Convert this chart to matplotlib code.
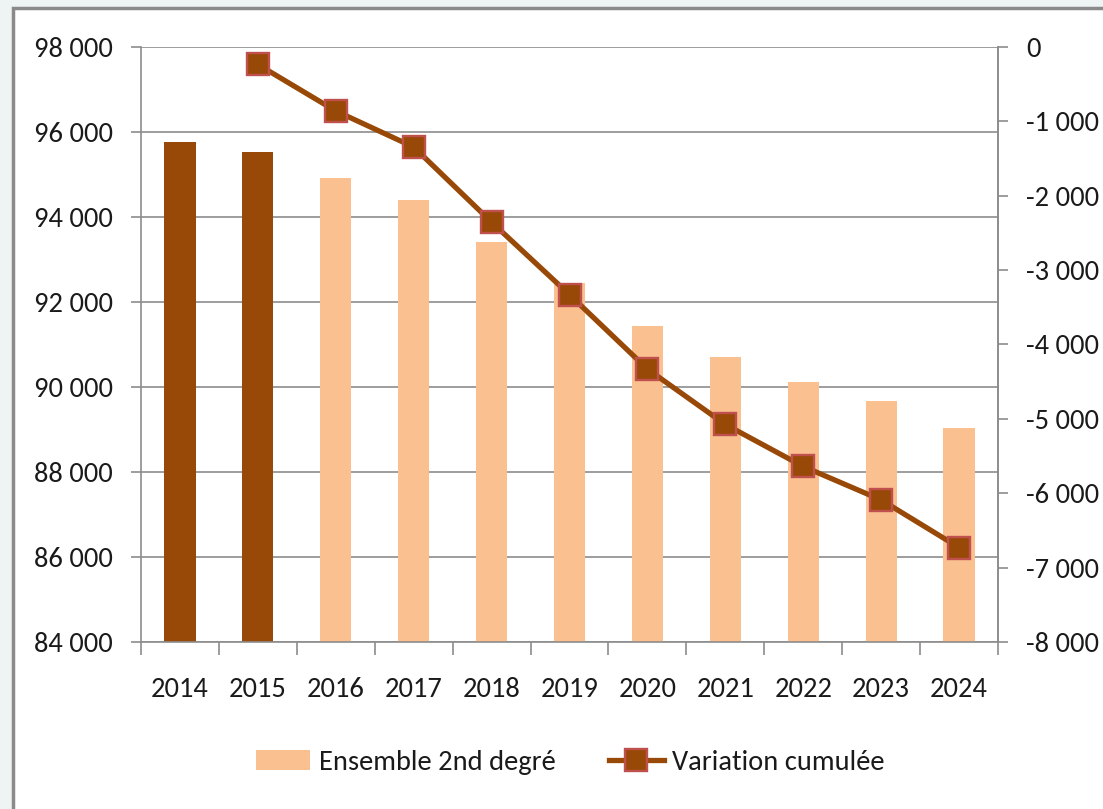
import matplotlib
matplotlib.use('Agg')
import numpy as np
import matplotlib.pyplot as plt
from matplotlib.patches import Rectangle
from matplotlib.lines import Line2D
from matplotlib.ticker import FuncFormatter, MultipleLocator, FixedLocator

plt.rcParams['font.family'] = ['Carlito', 'PT Sans Narrow', 'Archivo Narrow', 'DejaVu Sans']

# data
years = ['2014', '2015', '2016', '2017', '2018', '2019', '2020', '2021', '2022', '2023', '2024']
effectifs = [95770, 95540, 94910, 94400, 93420, 92440, 91440, 90700, 90110, 89680, 89040]
variation = [np.nan, -235, -860, -1345, -2355, -3330, -4330, -5075, -5640, -6090, -6730]
observed = [True, True, False, False, False, False, False, False, False, False, False]

dark = '#984807'
light = '#FAC090'
edge = '#C0504D'
grey = '#8c8c8c'
txt = '#1a1a1a'
fs = 20.5


def spaced(v, pos):
    s = '{:,.0f}'.format(v).replace(',', ' ')
    return s


fig = plt.figure(figsize=(11.03, 8.09), dpi=100)
fig.patch.set_facecolor('#eef3f3')

# white chart area with grey frame
frame = Rectangle((13 / 1103, -0.1), 1.2, 1.1 - 8 / 809, transform=fig.transFigure,
                  facecolor='white', edgecolor='#8a8a8a', linewidth=2.5, zorder=-10)
fig.patches.append(frame)

ax = fig.add_axes([141 / 1103, 1 - 642 / 809, (998 - 141) / 1103, (642 - 47) / 809])
ax.set_facecolor('none')
x = np.arange(len(years))
cols = [dark if o else light for o in observed]
ax.bar(x, effectifs, width=0.4, color=cols, zorder=2)

ax.set_xlim(-0.5, len(years) - 0.5)
ax.set_ylim(84000, 98000)
ax.yaxis.set_major_locator(MultipleLocator(2000))
ax.yaxis.set_major_formatter(FuncFormatter(spaced))
ax.grid(axis='y', color=grey, linewidth=1.2, zorder=0)
ax.set_axisbelow(True)

ax.set_xticks(x)
ax.set_xticklabels(years)
ax.xaxis.set_minor_locator(FixedLocator(np.arange(-0.5, len(years), 1.0)))
ax.tick_params(axis='x', which='major', length=0, pad=25, labelsize=fs, colors=txt)
ax.tick_params(axis='x', which='minor', length=9, width=1.2, color=grey, direction='out')
ax.tick_params(axis='y', length=7, width=1.2, color=grey, pad=13, labelsize=fs, labelcolor=txt)

ax.spines['top'].set_visible(False)
for s in ['left', 'bottom', 'right']:
    ax.spines[s].set_color(grey)
    ax.spines[s].set_linewidth(1.2)

# cumulated variation on the right axis
ax2 = ax.twinx()
ax2.plot(x, variation, color=dark, linewidth=3.8, marker='s', markersize=15.5,
         markerfacecolor=dark, markeredgecolor=edge, markeredgewidth=1.7, zorder=5)
ax2.set_ylim(-8000, 0)
ax2.yaxis.set_major_locator(MultipleLocator(1000))
ax2.yaxis.set_major_formatter(FuncFormatter(spaced))
ax2.tick_params(axis='y', length=7, width=1.2, color=grey, pad=13, labelsize=fs, labelcolor=txt)
for s in ['top', 'left', 'bottom']:
    ax2.spines[s].set_visible(False)
ax2.spines['right'].set_color(grey)
ax2.spines['right'].set_linewidth(1.2)

# legend at the bottom
h1 = Rectangle((0, 0), 1, 1, facecolor=light, edgecolor='none')
h2 = Line2D([], [], color=dark, linewidth=3.8, marker='s', markersize=15.5,
            markerfacecolor=dark, markeredgecolor=edge, markeredgewidth=1.7)
leg = fig.legend([h1, h2], ['Ensemble 2nd degré', 'Variation cumulée'], loc='center',
                 bbox_to_anchor=(0.517, 0.058), ncol=2, frameon=False, fontsize=fs,
                 handlelength=1.9, handleheight=0.7, handletextpad=0.3, columnspacing=1.9)
for t in leg.get_texts():
    t.set_color(txt)

fig.savefig('out.png', dpi=100, facecolor=fig.get_facecolor())
